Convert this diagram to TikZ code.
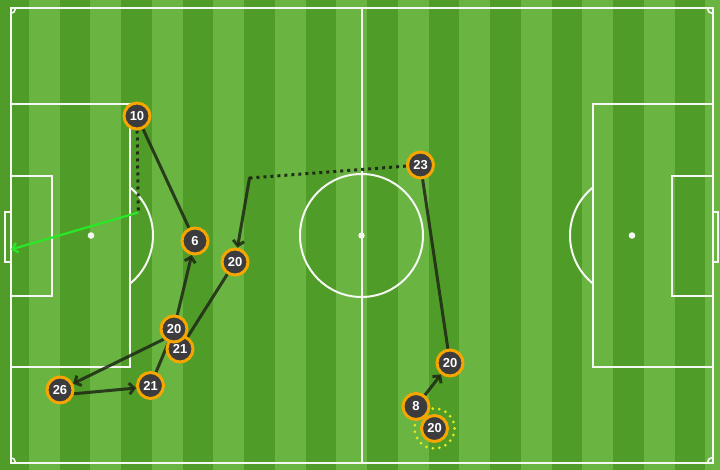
\documentclass[tikz,border=0pt]{standalone}
\usepackage{fontspec}
\newfontfamily\nf{Liberation Sans}
\usetikzlibrary{arrows.meta}
\definecolor{stripeL}{RGB}{106,180,66}
\definecolor{stripeD}{RGB}{80,156,40}
\definecolor{pline}{RGB}{245,248,242}
\definecolor{nfill}{RGB}{60,60,62}
\definecolor{nring}{RGB}{247,166,0}
\definecolor{conncol}{RGB}{30,40,22}
\definecolor{shotgreen}{RGB}{40,232,40}
\definecolor{hiyel}{RGB}{232,236,30}
\pgfdeclarelayer{pitch}
\pgfdeclarelayer{lines}
\pgfsetlayers{pitch,lines,main}
\tikzset{
  player/.style={circle, fill=nfill, draw=nring, line width=3pt, minimum size=26pt, inner sep=0pt,
    text=white, font=\nf\bfseries\fontsize{13}{13}\selectfont},
  conn/.style={draw=conncol, opacity=0.85, line width=3pt, line cap=round},
  arrowtip/.style={-{Straight Barb[length=5pt,width=11pt]}, line join=round},
  dotc/.style={draw=conncol, opacity=0.95, line width=3pt, dash pattern=on 3pt off 4pt},
  shot/.style={draw=shotgreen, line width=2.2pt, -{Straight Barb[length=5pt,width=10pt]}},
  pl/.style={draw=pline, line width=2pt},
}
\begin{document}
\begin{tikzpicture}[x=1pt,y=-1pt]
\useasboundingbox (0,0) rectangle (720,470);
\begin{pgfonlayer}{pitch}
\clip (0,0) rectangle (720,470);
\fill[stripeL] (0,0) rectangle (720,470);
\foreach \k in {0,...,11} {
  \fill[stripeD] ({-2+61.5*\k},0) rectangle ({28.75+61.5*\k},470);
}
% outer lines
\draw[pl] (10.5,8.5) rectangle (712.5,462.5);
\draw[pl] (361.5,8.5) -- (361.5,462.5);
\draw[pl] (361.5,235.5) circle[radius=61.5];
\fill[pline] (361.5,235.5) circle[radius=3.2];
% corner arcs
\begin{scope}
\clip (10.5,8.5) rectangle (712.5,462.5);
\draw[pl, line width=1.6pt] (10.5,8.5) circle[radius=5];
\draw[pl, line width=1.6pt] (10.5,462.5) circle[radius=5];
\draw[pl, line width=1.6pt] (712.5,8.5) circle[radius=5];
\draw[pl, line width=1.6pt] (712.5,462.5) circle[radius=5];
\end{scope}
% left
\draw[pl] (10.5,104) rectangle (130,367);
\draw[pl] (10.5,176) rectangle (51.5,296);
\draw[pl] (5,212) rectangle (10.5,262);
\fill[pline] (91,235.5) circle[radius=3.3];
\begin{scope}
\clip (130,0) rectangle (200,470);
\draw[pl] (91,235.5) circle[radius=62];
\end{scope}
% right
\draw[pl] (592.7,104) rectangle (712.5,367);
\draw[pl] (671.7,176) rectangle (712.5,296);
\draw[pl] (712.5,212) rectangle (717.7,262);
\fill[pline] (632,235.5) circle[radius=3.3];
\begin{scope}
\clip (520,0) rectangle (592.7,470);
\draw[pl] (632,235.5) circle[radius=62];
\end{scope}
\end{pgfonlayer}

% players
\node[player] (p10) at (137,116) {10};
\node[player] (p6) at (195,241) {6};
\node[player] (p20c) at (235,262) {20};
\node[player] (p23) at (420.5,165) {23};
\node[player] (p21b) at (180,349) {21};
\node[player] (p20a) at (174,329) {20};
\node[player] (p26) at (60,390) {26};
\node[player] (p21a) at (150.5,385.5) {21};
\node[player] (p20r) at (450,363) {20};
\node[player] (p8) at (416,406.5) {8};
\node[player] (p20b) at (434.5,428.5) {20};
\coordinate (c1) at (138.3,212.5);
\coordinate (goal) at (11,249.5);
\coordinate (c2) at (249.5,178);

\begin{pgfonlayer}{lines}
\draw[conn] (p10) -- (p6);
\draw[dotc] (p10) -- (c1);
\draw[shot] (c1) -- (goal);
\draw[dotc] (p23) -- (c2);
\draw[conn, arrowtip] (c2) -- (p20c);
\draw[conn] (p23) -- (p20r);
\draw[conn, arrowtip] (p8) -- (p20r);
\draw[conn, arrowtip] (p20a) -- (p6);
\draw[conn] (p20c) -- (p21b);
\draw[conn] (p21a) -- (p20a);
\draw[conn, arrowtip] (p20a.225) -- (p26);
\draw[conn, arrowtip] (p26.-15) -- (p21a.190);
\draw[draw=hiyel, line width=3pt, line cap=round, dash pattern=on 0pt off 6.6pt] (p20b.center) circle[radius=20];
\end{pgfonlayer}
\end{tikzpicture}
\end{document}
